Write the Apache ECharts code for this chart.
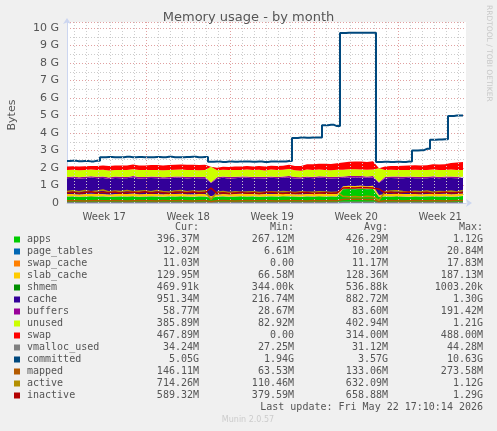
<!DOCTYPE html>
<html><head><meta charset="utf-8">
<script src="https://cdn.jsdelivr.net/npm/echarts@6/dist/echarts.min.js"></script>
<style>html,body{margin:0;padding:0;background:#f0f0f0}#c{width:497px;height:431px}</style>
</head><body><div id="c"></div>
<script>
// x: half-day steps, values in GB
const apps=[0.36,0.37,0.35,0.36,0.38,0.36,0.37,0.35,0.36,0.37,0.36,0.38,0.35,0.36,0.37,0.36,0.35,0.37,0.36,0.38,0.36,0.35,0.37,0.36,
0.30,0.36,0.37,0.35,0.36,0.38,0.36,0.37,0.35,0.36,0.37,0.36,0.38,0.37,0.36,0.35,0.37,0.36,0.38,0.36,0.37,0.36,
0.78,0.80,0.79,0.81,0.78,0.80,
0.35,0.37,0.36,0.38,0.36,0.35,0.37,0.36,0.37,0.38,0.36,0.37,0.35,0.36,0.40];
const pageTables=[0.01,0.01,0.01,0.01,0.01,0.01,0.01,0.01,0.01,0.01,0.01,0.01,0.01,0.01,0.01,0.01,0.01,0.01,0.01,0.01,0.01,0.01,0.01,0.01,0.01,0.01,0.01,0.01,0.01,0.01,0.01,0.01,0.01,0.01,0.01,0.01,0.01,0.01,0.01,0.01,0.01,0.01,0.01,0.01,0.01,0.01,0.02,0.02,0.02,0.02,0.02,0.02,0.01,0.01,0.01,0.01,0.01,0.01,0.01,0.01,0.01,0.01,0.01,0.01,0.01,0.01,0.01];
const swapCache=[0.01,0.01,0.01,0.01,0.01,0.01,0.01,0.01,0.01,0.01,0.01,0.01,0.01,0.01,0.01,0.01,0.01,0.01,0.01,0.01,0.01,0.01,0.01,0.01,0.0,0.0,0.01,0.01,0.01,0.01,0.01,0.01,0.01,0.01,0.01,0.01,0.01,0.01,0.01,0.01,0.01,0.01,0.01,0.01,0.01,0.01,0.01,0.01,0.01,0.01,0.01,0.01,0.0,0.01,0.01,0.01,0.01,0.01,0.01,0.01,0.01,0.01,0.01,0.01,0.01,0.01,0.01];
const slabCache=[0.13,0.13,0.12,0.13,0.13,0.14,0.13,0.12,0.13,0.13,0.13,0.14,0.13,0.13,0.12,0.13,0.13,0.13,0.14,0.13,0.12,0.13,0.13,0.13,0.08,0.12,0.13,0.13,0.13,0.14,0.13,0.12,0.13,0.13,0.13,0.14,0.13,0.13,0.12,0.13,0.13,0.13,0.14,0.13,0.12,0.13,0.15,0.16,0.15,0.16,0.15,0.16,0.09,0.12,0.13,0.13,0.13,0.14,0.13,0.12,0.13,0.13,0.13,0.14,0.13,0.13,0.13];
const shmem=[0.0005,0.0005,0.0005,0.0005,0.0005,0.0005,0.0005,0.0005,0.0005,0.0005,0.0005,0.0005,0.0005,0.0005,0.0005,0.0005,0.0005,0.0005,0.0005,0.0005,0.0005,0.0005,0.0005,0.0005,0.0005,0.0005,0.0005,0.0005,0.0005,0.0005,0.0005,0.0005,0.0005,0.0005,0.0005,0.0005,0.0005,0.0005,0.0005,0.0005,0.0005,0.0005,0.0005,0.0005,0.0005,0.0005,0.0009,0.0009,0.0009,0.0009,0.0009,0.0009,0.0005,0.0005,0.0005,0.0005,0.0005,0.0005,0.0005,0.0005,0.0005,0.0005,0.0005,0.0005,0.0005,0.0005,0.0005];
const cache=[0.90,0.92,0.89,0.91,0.93,0.90,0.91,0.88,0.92,0.90,0.91,0.93,0.89,0.90,0.92,0.91,0.90,0.88,0.92,0.91,0.90,0.93,0.89,0.91,
0.75,0.90,0.92,0.89,0.91,0.90,0.93,0.90,0.91,0.89,0.92,0.90,0.91,0.93,0.90,0.89,0.92,0.91,0.90,0.92,0.89,0.91,
0.48,0.47,0.49,0.46,0.48,0.47,
0.70,0.90,0.92,0.89,0.91,0.93,0.90,0.91,0.89,0.92,0.90,0.91,0.93,0.90,0.89];
const buffers=[0.08,0.08,0.09,0.08,0.07,0.08,0.08,0.09,0.08,0.08,0.07,0.08,0.09,0.08,0.08,0.08,0.07,0.09,0.08,0.08,0.08,0.07,0.08,0.08,0.03,0.08,0.08,0.09,0.08,0.07,0.08,0.08,0.09,0.08,0.08,0.07,0.08,0.09,0.08,0.08,0.08,0.07,0.09,0.08,0.08,0.08,0.08,0.09,0.08,0.08,0.07,0.08,0.03,0.08,0.08,0.09,0.08,0.07,0.08,0.08,0.09,0.08,0.08,0.07,0.08,0.09,0.06];
const unused=[0.39,0.38,0.40,0.39,0.38,0.39,0.39,0.40,0.38,0.39,0.39,0.38,0.40,0.39,0.38,0.39,0.40,0.39,0.38,0.39,0.40,0.39,0.38,0.39,
0.90,0.40,0.38,0.40,0.39,0.38,0.39,0.39,0.40,0.38,0.39,0.39,0.38,0.40,0.39,0.38,0.39,0.40,0.39,0.38,0.39,0.40,
0.38,0.38,0.39,0.38,0.39,0.38,
0.80,0.40,0.39,0.38,0.39,0.38,0.40,0.39,0.38,0.39,0.39,0.38,0.40,0.39,0.39];
const swap=[0.20,0.20,0.21,0.21,0.21,0.22,0.24,0.25,0.25,0.26,0.26,0.27,0.27,0.27,0.28,0.28,0.28,0.29,0.29,0.29,0.30,0.30,0.30,0.30,
0.00,0.15,0.17,0.18,0.19,0.20,0.20,0.21,0.21,0.22,0.22,0.23,0.23,0.24,0.24,0.27,0.30,0.32,0.33,0.35,0.36,0.37,
0.42,0.43,0.44,0.45,0.45,0.46,
0.00,0.20,0.22,0.23,0.24,0.25,0.26,0.27,0.28,0.30,0.32,0.33,0.38,0.42,0.45];
const vmallocUsed=[0.03,0.03,0.03,0.03,0.03,0.03,0.03,0.03,0.03,0.03,0.03,0.03,0.03,0.03,0.03,0.03,0.03,0.03,0.03,0.03,0.03,0.03,0.03,0.03,0.03,0.03,0.03,0.03,0.03,0.03,0.03,0.03,0.03,0.03,0.03,0.03,0.03,0.03,0.03,0.03,0.03,0.03,0.03,0.03,0.03,0.03,0.04,0.04,0.04,0.04,0.04,0.04,0.03,0.03,0.03,0.03,0.03,0.03,0.03,0.03,0.03,0.03,0.03,0.03,0.03,0.03,0.03];
const committed=[2.40,2.41,2.39,2.40,2.38,2.42,
2.62,2.63,2.61,2.62,2.64,2.62,2.63,2.61,2.62,2.63,2.62,2.64,2.62,2.61,2.63,2.65,2.62,2.63,
2.36,2.37,2.35,2.37,2.36,2.38,2.37,2.36,2.37,2.35,2.37,2.38,2.37,2.40,
3.72,3.74,3.73,3.75,3.74,
4.45,4.47,4.40,
9.72,9.74,9.73,9.74,9.73,9.74,
2.35,2.36,2.34,2.36,2.35,2.37,
3.00,3.02,3.10,
3.62,3.63,3.64,
4.98,5.00,5.00];
const mapped=[0.13,0.14,0.13,0.12,0.13,0.14,0.13,0.13,0.14,0.13,0.12,0.13,0.14,0.13,0.13,0.12,0.14,0.13,0.13,0.14,0.13,0.12,0.13,0.14,0.08,0.13,0.14,0.13,0.12,0.13,0.14,0.13,0.13,0.14,0.13,0.12,0.13,0.14,0.13,0.13,0.12,0.14,0.13,0.13,0.14,0.13,0.20,0.21,0.22,0.21,0.20,0.21,0.09,0.13,0.14,0.13,0.12,0.13,0.14,0.13,0.13,0.14,0.13,0.12,0.13,0.14,0.15];
const active=[0.66,0.70,0.64,0.72,0.65,0.68,0.74,0.63,0.69,0.66,0.71,0.64,0.67,0.70,0.65,0.72,0.66,0.63,0.69,0.71,0.64,0.68,0.66,0.70,
0.20,0.62,0.66,0.60,0.64,0.61,0.63,0.65,0.60,0.62,0.64,0.61,0.66,0.63,0.60,0.64,0.62,0.61,0.65,0.63,0.60,0.62,
0.38,0.36,0.37,0.35,0.38,0.36,
0.15,0.64,0.68,0.70,0.66,0.63,0.67,0.65,0.69,0.62,0.66,0.64,0.68,0.63,0.71];
const inactive=[0.58,0.62,0.55,0.60,0.64,0.57,0.61,0.59,0.63,0.56,0.60,0.62,0.58,0.64,0.57,0.61,0.59,0.55,0.62,0.60,0.58,0.63,0.57,0.60,
0.85,0.55,0.58,0.54,0.57,0.60,0.56,0.59,0.55,0.58,0.61,0.57,0.55,0.59,0.56,0.58,0.60,0.55,0.57,0.59,0.56,0.58,
0.86,0.87,0.86,0.88,0.87,0.86,
0.80,0.58,0.61,0.56,0.60,0.63,0.57,0.59,0.62,0.55,0.58,0.61,0.57,0.60,0.59];

const weekLabels=['Week 17','Week 18','Week 19','Week 20','Week 21'];
const weekCenters=[3.1,10.1,17.1,24.1,31.1];
const weekBounds=[6.6,13.6,20.6,27.6];
const dayLines=[0.6,1.6,2.6,3.6,4.6,5.6,7.6,8.6,9.6,10.6,11.6,12.6,14.6,15.6,16.6,17.6,18.6,19.6,21.6,22.6,23.6,24.6,25.6,26.6,28.6,29.6,30.6,31.6,32.6];

const names=['apps','page_tables','swap_cache','slab_cache','shmem','cache','buffers','unused','swap','vmalloc_used','committed','mapped','active','inactive'];
const colors=['#00cc00','#0066b3','#ff8000','#ffcc00','#008f00','#330099','#990099','#ccff00','#ff0000','#808080','#00487d','#b35a00','#b38f00','#b30000'];
const curV=['396.37M','12.02M','11.03M','129.95M','469.91k','951.34M','58.77M','385.89M','467.89M','34.24M','5.05G','146.11M','714.26M','589.32M'];
const minV=['267.12M','6.61M','0.00','66.58M','344.00k','216.74M','28.67M','82.92M','0.00','27.25M','1.94G','63.53M','110.46M','379.59M'];
const avgV=['426.29M','10.20M','11.17M','128.36M','536.88k','882.72M','83.60M','402.94M','314.00M','31.12M','3.57G','133.06M','632.09M','658.88M'];
const maxV=['1.12G','20.84M','17.83M','187.13M','1003.20k','1.30G','191.42M','1.21G','488.00M','44.28M','10.63G','273.58M','1.12G','1.29G'];

const seriesData=[apps,pageTables,swapCache,slabCache,shmem,cache,buffers,unused,swap,vmallocUsed,committed,mapped,active,inactive];
const stacked=8;
const chart=echarts.init(document.getElementById('c'));
const series=seriesData.map((arr,k)=>{
  const d=arr.map((v,i)=>[v,i*0.5]);
  const s={name:names[k],type:'line',data:d,encode:{x:1,y:0},showSymbol:false,silent:true,z:3};
  if(k<=stacked){s.stack='mem';s.areaStyle={color:colors[k],opacity:1};s.lineStyle={width:0};s.z=2;}
  else{s.lineStyle={color:colors[k],width:k===10?2:1.5};}
  if(k===10)s.step='middle';
  return s;
});
series.push({type:'line',data:[],showSymbol:false,silent:true,z:1,
  markLine:{silent:true,symbol:'none',label:{show:false},animation:false,
    data:dayLines.map(v=>({xAxis:v,lineStyle:{color:'#ccc',type:[1,2],width:1}}))
      .concat(weekBounds.map(v=>({xAxis:v,lineStyle:{color:'#e0a0a0',type:[1,2],width:1}})))}});
const font='"DejaVu Sans Mono",monospace';
const g=[];
const hdr=[['Cur:',199],['Min:',294],['Avg:',388],['Max:',483]];
hdr.forEach(h=>g.push({type:'text',x:h[1],y:227,style:{text:h[0],font:'10px '+font,fill:'#555',align:'right',verticalAlign:'middle'}}));
names.forEach((n,i)=>{
  const y=239.5+i*12;
  g.push({type:'rect',shape:{x:14,y:y-3,width:6,height:6},style:{fill:colors[i]}});
  g.push({type:'text',x:27,y:y,style:{text:n,font:'10px '+font,fill:'#555',verticalAlign:'middle'}});
  [[curV,199],[minV,294],[avgV,388],[maxV,483]].forEach(c=>g.push({type:'text',x:c[1],y:y,style:{text:c[0][i],font:'10px '+font,fill:'#555',align:'right',verticalAlign:'middle'}}));
});
g.push({type:'text',x:483,y:407,style:{text:'Last update: Fri May 22 17:10:14 2026',font:'10px '+font,fill:'#555',align:'right',verticalAlign:'middle'}});
g.push({type:'text',x:248,y:420,style:{text:'Munin 2.0.57',font:'8px "DejaVu Sans"',fill:'#ccc',align:'center',verticalAlign:'middle'}});
g.push({type:'text',x:489,y:5,rotation:-Math.PI/2,style:{text:'RRDTOOL / TOBI OETIKER',font:'7.5px "DejaVu Sans"',fill:'#c8c8c8',verticalAlign:'middle'}});
g.push({type:'text',x:12,y:115,rotation:Math.PI/2,style:{text:'Bytes',font:'11px "DejaVu Sans"',fill:'#555',align:'center',verticalAlign:'middle'}});
chart.setOption({
  animation:false,backgroundColor:'#f0f0f0',
  title:{text:'Memory usage - by month',left:'center',top:6,textStyle:{fontFamily:'DejaVu Sans',fontSize:13,fontWeight:'normal',color:'#555'}},
  grid:{left:67,right:31,top:22,bottom:228,backgroundColor:'#fff',show:true,borderWidth:0},
  xAxis:{type:'value',min:0,max:33.25,splitLine:{show:false},axisTick:{show:false},
    axisLine:{show:true,onZero:false,lineStyle:{color:'#ccd6f0'},symbol:['none','arrow'],symbolSize:[6,6],symbolOffset:[0,6]},
    axisLabel:{customValues:weekCenters,formatter:v=>{const i=weekCenters.findIndex(c=>Math.abs(c-v)<0.01);return i>=0?weekLabels[i]:'';},fontFamily:'DejaVu Sans',fontSize:10,color:'#555',margin:9}},
  yAxis:{type:'value',min:0,max:10.35,interval:1,
    axisLine:{show:true,lineStyle:{color:'#ccd6f0'},symbol:['none','arrow'],symbolSize:[6,6],symbolOffset:[0,4]},axisTick:{show:false},
    axisLabel:{formatter:v=>v===0?'0':v+' G',fontFamily:'DejaVu Sans',fontSize:11,color:'#555',margin:8,showMaxLabel:false},
    splitLine:{lineStyle:{color:'#e0a0a0',type:[1,2]}},
    minorTick:{show:false,splitNumber:2},minorSplitLine:{show:true,lineStyle:{color:'#ccc',type:[1,2]}}},
  series:series,graphic:g
});
</script></body></html>
